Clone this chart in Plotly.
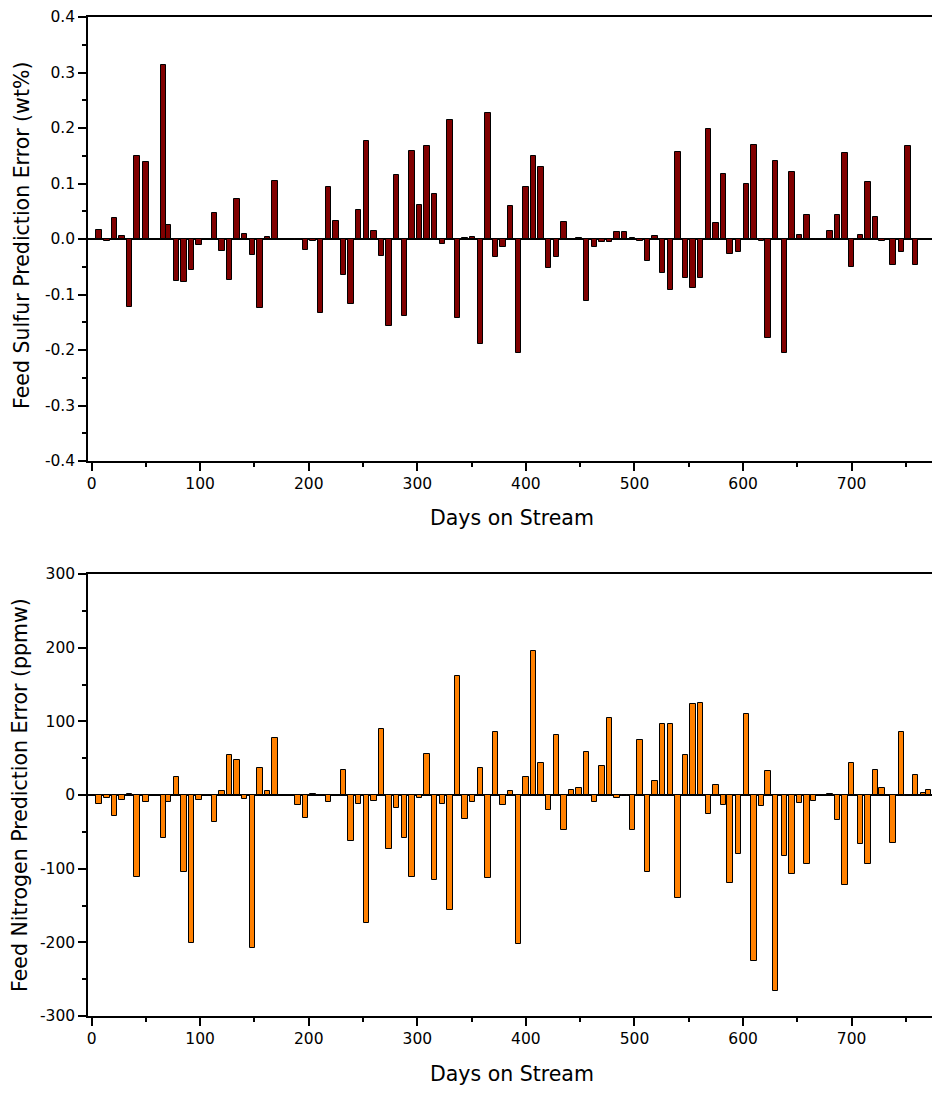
import plotly.graph_objects as go

# Days on stream for each sample
days_s = [7, 14, 21, 28, 35, 42, 50, 66, 71, 78, 85, 92, 99, 113, 120, 127, 134, 141, 148, 155,
          162, 169, 190, 197, 204, 211, 218, 225, 232, 239, 246, 253, 260, 267, 274, 281, 288, 295,
          302, 309, 316, 323, 330, 337, 344, 351, 358, 365, 372, 379, 386, 393, 400, 407, 414, 421,
          428, 435, 449, 456, 463, 470, 477, 484, 491, 498, 505, 512, 519, 526, 533, 540, 547, 554,
          561, 568, 575, 582, 588, 596, 603, 610, 617, 623, 630, 638, 645, 652, 659, 665, 680, 687,
          694, 700, 708, 715, 722, 728, 738, 746, 752, 759]

# Feed sulfur prediction error (wt%)
sulfur_err = [0.017, -0.003, 0.038, 0.006, -0.122, 0.149, 0.138, 0.313, 0.026, -0.076, -0.077,
              -0.055, -0.010, 0.047, -0.021, -0.073, 0.072, 0.009, -0.028, -0.125, 0.004, 0.104,
              -0.002, -0.020, -0.004, -0.133, 0.094, 0.032, -0.064, -0.118, 0.052, 0.177, 0.014,
              -0.031, -0.157, 0.115, -0.139, 0.159, 0.061, 0.167, 0.081, -0.009, 0.214, -0.143,
              0.002, 0.004, -0.190, 0.227, -0.032, -0.015, 0.059, -0.206, 0.094, 0.150, 0.130,
              -0.053, -0.032, 0.030, 0.001, -0.112, -0.014, -0.005, -0.006, 0.012, 0.013, 0.002,
              -0.004, -0.039, 0.005, -0.061, -0.091, 0.157, -0.070, -0.088, -0.071, 0.199, 0.028,
              0.118, -0.027, -0.024, 0.099, 0.170, -0.003, -0.179, 0.141, -0.205, 0.120, 0.007,
              0.044, -0.001, 0.015, 0.044, 0.155, -0.050, 0.008, 0.103, 0.039, -0.004, -0.046,
              -0.024, 0.168, -0.047]

days_n = [7, 14, 21, 28, 35, 42, 50, 66, 71, 78, 85, 92, 99, 113, 120, 127, 134, 141, 148, 155,
          162, 169, 190, 197, 204, 218, 232, 239, 246, 253, 260, 267, 274, 281, 288, 295, 302, 309,
          316, 323, 330, 337, 344, 351, 358, 365, 372, 379, 386, 393, 400, 407, 414, 421, 428, 435,
          442, 449, 456, 463, 470, 477, 484, 491, 498, 505, 512, 519, 526, 533, 540, 547, 554, 561,
          568, 575, 582, 588, 596, 603, 610, 617, 623, 630, 638, 645, 652, 659, 665, 680, 687, 694,
          700, 708, 715, 722, 728, 738, 746, 752, 759, 766, 771]

# Feed nitrogen prediction error (ppmw)
nitrogen_err = [-12, -4, -28, -7, 2, -111, -10, -58, -9, 24, -104, -201, -7, -37, 6, 54, 48, -6,
                -208, 36, 6, 78, -14, -31, 1, -9, 34, -63, -12, -174, -8, 89, -73, -17, -58, -111,
                -4, 56, -115, -12, -156, 162, -33, -10, 37, -113, 85, -13, 6, -202, 24, 195, 43,
                -21, 81, -48, 7, 10, 58, -10, 39, 104, -4, -2, -48, 75, -104, 19, 97, 96, -140, 54,
                123, 125, -26, 13, -14, -119, -80, 110, -226, -15, 32, -266, -83, -107, -11, -93,
                -8, 1, -34, -122, 44, -67, -94, 34, 9, -65, 86, -1, 27, 3, 7]

x_ticks = [0, 100, 200, 300, 400, 500, 600, 700]
s_ticks = [-0.4, -0.3, -0.2, -0.1, 0.0, 0.1, 0.2, 0.3, 0.4]
s_labels = ["-0.4", "-0.3", "-0.2", "-0.1", "0.0", "0.1", "0.2", "0.3", "0.4"]
n_ticks = [-300, -200, -100, 0, 100, 200, 300]
n_labels = ["-300", "-200", "-100", "0", "100", "200", "300"]

W, H = 932, 1093
FONT = "DejaVu Sans"


def py(px):
    """Convert a pixel row (from top) to paper y."""
    return 1 - px / H


fig = go.Figure()
fig.add_trace(go.Bar(x=days_s, y=sulfur_err, width=5,
                     marker=dict(color="#800000", line=dict(color="black", width=1)),
                     xaxis="x", yaxis="y"))
fig.add_trace(go.Bar(x=days_n, y=nitrogen_err, width=5,
                     marker=dict(color="#FF8000", line=dict(color="black", width=1)),
                     xaxis="x2", yaxis="y2"))

x_common = dict(range=[-3.3, 774], tickmode="array", tickvals=x_ticks,
                ticks="outside", ticklen=8, tickwidth=1.5, tickcolor="black",
                showline=True, linecolor="black", linewidth=1.5, mirror=True,
                showgrid=False, zeroline=False, automargin=False,
                minor=dict(dtick=50, tick0=0, ticks="outside", ticklen=4, tickwidth=1.5,
                           tickcolor="black", showgrid=False),
                tickfont=dict(family=FONT, size=15.5, color="black"),
                domain=[88 / W, 1])

y_common = dict(ticks="outside", ticklen=8, tickwidth=1.5, tickcolor="black",
                showline=True, linecolor="black", linewidth=1.5,
                showgrid=False, zeroline=True, zerolinecolor="black", zerolinewidth=2,
                automargin=False,
                tickfont=dict(family=FONT, size=15.5, color="black"))

fig.update_layout(
    width=W, height=H,
    margin=dict(l=0, r=0, t=0, b=0),
    paper_bgcolor="white", plot_bgcolor="white",
    showlegend=False,
    bargap=0,
    font=dict(family=FONT, size=15, color="black"),
    xaxis=dict(anchor="y", **x_common),
    xaxis2=dict(anchor="y2", **x_common),
    yaxis=dict(anchor="x", domain=[py(461), py(17)], range=[-0.4, 0.4],
               tickmode="array", tickvals=s_ticks, ticktext=s_labels,
               minor=dict(dtick=0.05, tick0=0, ticks="outside", ticklen=4, tickwidth=1.5,
                          tickcolor="black", showgrid=False),
               **y_common),
    yaxis2=dict(anchor="x2", domain=[py(1016), py(574)], range=[-300, 300],
                tickmode="array", tickvals=n_ticks, ticktext=n_labels,
                minor=dict(dtick=50, tick0=0, ticks="outside", ticklen=4, tickwidth=1.5,
                           tickcolor="black", showgrid=False),
                **y_common),
)

title_font = dict(family=FONT, size=20.5, color="black")
annotations = [
    dict(text="Days on Stream", x=512 / W, y=py(518), xref="paper", yref="paper",
         showarrow=False, font=title_font, xanchor="center", yanchor="middle"),
    dict(text="Days on Stream", x=512 / W, y=py(1074), xref="paper", yref="paper",
         showarrow=False, font=title_font, xanchor="center", yanchor="middle"),
    dict(text="Feed Sulfur Prediction Error (wt%)", x=22 / W, y=py(236), xref="paper",
         yref="paper", showarrow=False, font=title_font, textangle=-90,
         xanchor="center", yanchor="middle"),
    dict(text="Feed Nitrogen Prediction Error (ppmw)", x=20 / W, y=py(795), xref="paper",
         yref="paper", showarrow=False, font=title_font, textangle=-90,
         xanchor="center", yanchor="middle"),
]
fig.update_layout(annotations=annotations)

fig.write_html("out.html")
